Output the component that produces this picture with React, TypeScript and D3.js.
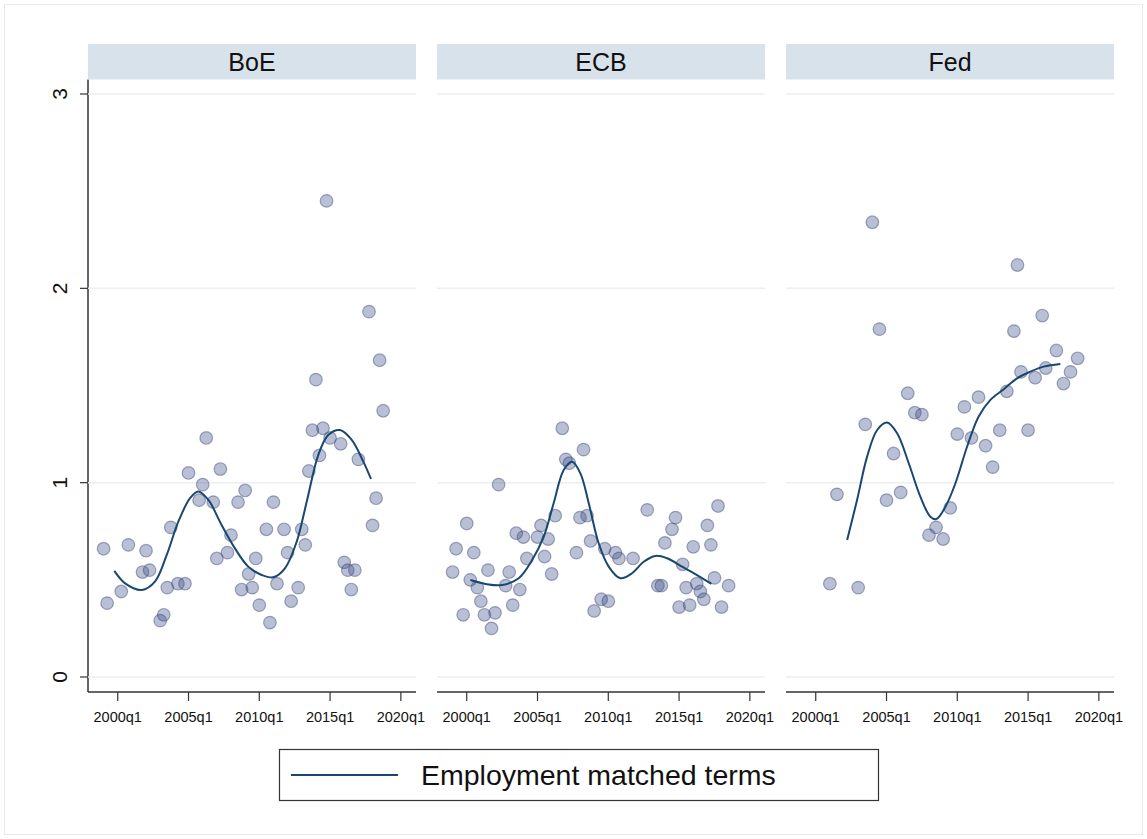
import React from "react";
import * as d3 from "d3";

// facet names, axis ticks
const banks = ["BoE", "ECB", "Fed"];
const xTicks = [2000, 2005, 2010, 2015, 2020];
const yTicks = [0, 1, 2, 3];
const legendLabel = "Employment matched terms";

// scatter: [year, value]
const boePoints: [number, number][] = [
  [1999.0, 0.66], [1999.25, 0.38], [2000.25, 0.44], [2000.75, 0.68], [2001.75, 0.54],
  [2002.0, 0.65], [2002.25, 0.55], [2003.0, 0.29], [2003.25, 0.32], [2003.5, 0.46],
  [2003.75, 0.77], [2004.25, 0.48], [2004.75, 0.48], [2005.0, 1.05], [2005.75, 0.91],
  [2006.0, 0.99], [2006.25, 1.23], [2006.75, 0.9], [2007.0, 0.61], [2007.25, 1.07],
  [2007.75, 0.64], [2008.0, 0.73], [2008.5, 0.9], [2008.75, 0.45], [2009.0, 0.96],
  [2009.25, 0.53], [2009.5, 0.46], [2009.75, 0.61], [2010.0, 0.37], [2010.5, 0.76],
  [2010.75, 0.28], [2011.0, 0.9], [2011.25, 0.48], [2011.75, 0.76], [2012.0, 0.64],
  [2012.25, 0.39], [2012.75, 0.46], [2013.0, 0.76], [2013.25, 0.68], [2013.5, 1.06],
  [2013.75, 1.27], [2014.0, 1.53], [2014.25, 1.14], [2014.5, 1.28], [2014.75, 2.45],
  [2015.0, 1.23], [2015.75, 1.2], [2016.0, 0.59], [2016.25, 0.55], [2016.5, 0.45],
  [2016.75, 0.55], [2017.0, 1.12], [2017.75, 1.88], [2018.0, 0.78], [2018.25, 0.92],
  [2018.5, 1.63], [2018.75, 1.37],
];

const ecbPoints: [number, number][] = [
  [1999.0, 0.54], [1999.25, 0.66], [1999.75, 0.32], [2000.0, 0.79], [2000.25, 0.5],
  [2000.5, 0.64], [2000.75, 0.46], [2001.0, 0.39], [2001.25, 0.32], [2001.5, 0.55],
  [2001.75, 0.25], [2002.0, 0.33], [2002.25, 0.99], [2002.75, 0.47], [2003.0, 0.54],
  [2003.25, 0.37], [2003.5, 0.74], [2003.75, 0.45], [2004.0, 0.72], [2004.25, 0.61],
  [2005.0, 0.72], [2005.25, 0.78], [2005.5, 0.62], [2005.75, 0.71], [2006.0, 0.53],
  [2006.25, 0.83], [2006.75, 1.28], [2007.0, 1.12], [2007.25, 1.1], [2007.75, 0.64],
  [2008.0, 0.82], [2008.25, 1.17], [2008.5, 0.83], [2008.75, 0.7], [2009.0, 0.34],
  [2009.5, 0.4], [2009.75, 0.66], [2010.0, 0.39], [2010.5, 0.64], [2010.75, 0.61],
  [2011.75, 0.61], [2012.75, 0.86], [2013.5, 0.47], [2013.75, 0.47], [2014.0, 0.69],
  [2014.5, 0.76], [2014.75, 0.82], [2015.0, 0.36], [2015.25, 0.58], [2015.5, 0.46],
  [2015.75, 0.37], [2016.0, 0.67], [2016.25, 0.48], [2016.5, 0.44], [2016.75, 0.4],
  [2017.0, 0.78], [2017.25, 0.68], [2017.5, 0.51], [2017.75, 0.88], [2018.0, 0.36],
  [2018.5, 0.47],
];

const fedPoints: [number, number][] = [
  [2001.0, 0.48], [2001.5, 0.94], [2003.0, 0.46], [2003.5, 1.3], [2004.0, 2.34],
  [2004.5, 1.79], [2005.0, 0.91], [2005.5, 1.15], [2006.0, 0.95], [2006.5, 1.46],
  [2007.0, 1.36], [2007.5, 1.35], [2008.0, 0.73], [2008.5, 0.77], [2009.0, 0.71],
  [2009.5, 0.87], [2010.0, 1.25], [2010.5, 1.39], [2011.0, 1.23], [2011.5, 1.44],
  [2012.0, 1.19], [2012.5, 1.08], [2013.0, 1.27], [2013.5, 1.47], [2014.0, 1.78],
  [2014.25, 2.12], [2014.5, 1.57], [2015.0, 1.27], [2015.5, 1.54], [2016.0, 1.86],
  [2016.25, 1.59], [2017.0, 1.68], [2017.5, 1.51], [2018.0, 1.57], [2018.5, 1.64],
];

// smoothed fit
const boeFit: [number, number][] = [
  [1999.76, 0.546], [2000.52, 0.482], [2001.69, 0.448], [2002.63, 0.491], [2003.46, 0.628],
  [2004.28, 0.799], [2005.11, 0.92], [2005.69, 0.954], [2006.4, 0.911], [2007.34, 0.782],
  [2008.28, 0.662], [2009.22, 0.568], [2010.17, 0.525], [2010.99, 0.513], [2011.81, 0.559],
  [2012.64, 0.696], [2013.35, 0.902], [2014.17, 1.143], [2014.87, 1.245], [2015.7, 1.271],
  [2016.53, 1.22], [2017.35, 1.108], [2017.89, 1.019],
];

const ecbFit: [number, number][] = [
  [2000.26, 0.499], [2001.32, 0.479], [2002.5, 0.473], [2003.67, 0.508], [2004.62, 0.602],
  [2005.44, 0.722], [2006.14, 0.894], [2006.85, 1.065], [2007.44, 1.108], [2008.03, 1.048],
  [2008.62, 0.894], [2009.32, 0.688], [2010.03, 0.568], [2010.85, 0.508], [2011.68, 0.534],
  [2012.5, 0.593], [2013.33, 0.623], [2014.15, 0.611], [2015.21, 0.568], [2016.15, 0.529],
  [2017.28, 0.479],
];

const fedFit: [number, number][] = [
  [2002.22, 0.705], [2002.92, 0.911], [2003.63, 1.134], [2004.34, 1.271], [2005.04, 1.309],
  [2005.75, 1.254], [2006.57, 1.1], [2007.39, 0.928], [2008.1, 0.825], [2008.52, 0.813],
  [2009.16, 0.876], [2009.87, 0.997], [2010.69, 1.185], [2011.51, 1.34], [2012.34, 1.426],
  [2013.28, 1.481], [2014.22, 1.537], [2015.16, 1.571], [2016.1, 1.597], [2017.28, 1.611],
];

const pointSets = [boePoints, ecbPoints, fedPoints];
const fitSets = [boeFit, ecbFit, fedFit];

const FONT = "Arial, 'Liberation Sans', sans-serif";
const NAVY = "#1a476f";

export default function App() {
  const W = 1147;
  const H = 839;
  const panelLeft = [88, 437, 786];
  const panelW = 328;
  const headerTop = 44;
  const headerBottom = 79.5;
  const axisY = 692;

  const x = d3.scaleLinear().domain([1997.9, 2021.07]).range([0, panelW]);
  const y = d3.scaleLinear().domain([0, 3]).range([677, 94]);
  const line = d3
    .line<[number, number]>()
    .x((d) => x(d[0]))
    .y((d) => y(d[1]))
    .curve(d3.curveCatmullRom.alpha(0.5));

  return (
    <svg
      width={W}
      height={H}
      style={{ position: "fixed", left: 0, top: 0, background: "#fff" }}
      fontFamily={FONT}
    >
      <rect x={4.5} y={4.5} width={W - 9} height={H - 9} fill="#fff" stroke="#e6eaee" strokeWidth={1} />

      {/* y axis on first panel */}
      <line x1={88} x2={88} y1={headerBottom} y2={axisY} stroke="#333" strokeWidth={1.5} />
      {yTicks.map((t) => (
        <g key={"yt" + t}>
          <line x1={80} x2={88} y1={y(t)} y2={y(t)} stroke="#333" strokeWidth={1.2} />
          <text
            transform={`translate(67,${y(t)}) rotate(-90)`}
            textAnchor="middle"
            fontSize={21}
            fill="#111"
          >
            {t}
          </text>
        </g>
      ))}

      {banks.map((bank, i) => {
        const left = panelLeft[i];
        return (
          <g key={bank} transform={`translate(${left},0)`}>
            <rect x={0} y={headerTop} width={panelW} height={headerBottom - headerTop} fill="#d7e2ea" />
            <text x={panelW / 2} y={70.5} textAnchor="middle" fontSize={25} fill="#111">
              {bank}
            </text>

            {yTicks.map((t) => (
              <line key={t} x1={0} x2={panelW} y1={y(t)} y2={y(t)} stroke="#eceef0" strokeWidth={1.5} />
            ))}

            <line x1={0} x2={panelW} y1={axisY} y2={axisY} stroke="#333" strokeWidth={1.5} />
            {xTicks.map((t) => (
              <g key={t}>
                <line x1={x(t)} x2={x(t)} y1={axisY} y2={axisY + 9} stroke="#333" strokeWidth={1.2} />
                <text x={x(t)} y={axisY + 30} textAnchor="middle" fontSize={14.5} fill="#111">
                  {t + "q1"}
                </text>
              </g>
            ))}

            {pointSets[i].map((d, j) => (
              <circle
                key={j}
                cx={x(d[0])}
                cy={y(d[1])}
                r={6.3}
                fill="rgba(60,78,135,0.36)"
                stroke="rgba(55,70,120,0.45)"
                strokeWidth={1.2}
              />
            ))}

            <path d={line(fitSets[i]) || ""} fill="none" stroke={NAVY} strokeWidth={2} />
          </g>
        );
      })}

      {/* legend */}
      <rect x={279.5} y={749.5} width={599} height={51} fill="#fff" stroke="#333" strokeWidth={1.2} />
      <line x1={291} x2={398} y1={775} y2={775} stroke={NAVY} strokeWidth={2} />
      <text x={421} y={785} fontSize={28.5} fill="#111">
        {legendLabel}
      </text>
    </svg>
  );
}
